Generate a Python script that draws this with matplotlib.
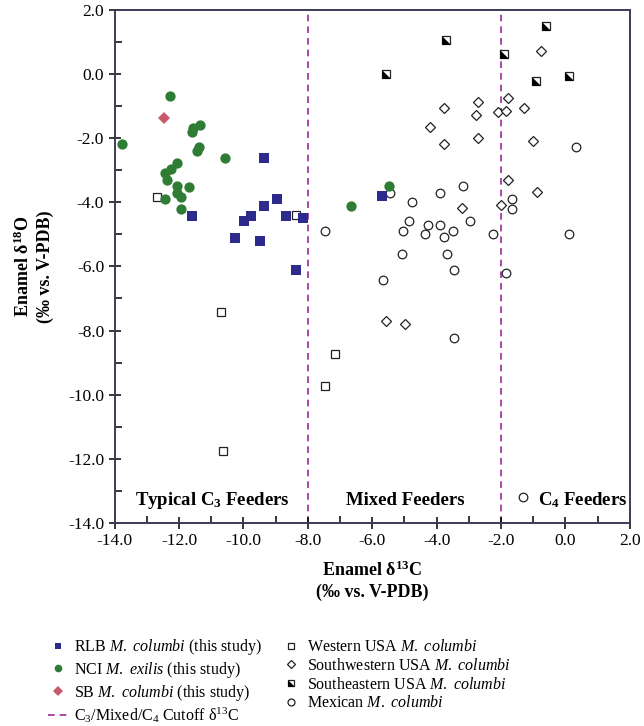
import numpy as np
import matplotlib
matplotlib.use("Agg")
import matplotlib.pyplot as plt
from matplotlib.lines import Line2D

plt.rcParams['font.family'] = ['Liberation Serif', 'DejaVu Serif']
plt.rcParams['mathtext.fontset'] = 'custom'
plt.rcParams['mathtext.rm'] = 'Liberation Serif'
plt.rcParams['mathtext.it'] = 'Liberation Serif:italic'
plt.rcParams['mathtext.bf'] = 'Liberation Serif:bold'
plt.rcParams['axes.unicode_minus'] = False

# this study
rlb_x = [-9.37, -11.59, -8.97, -9.37, -8.68, -9.75, -9.98, -10.26, -9.49, -8.37, -8.14, -5.70]
rlb_y = [-2.61, -4.42, -3.91, -4.10, -4.42, -4.42, -4.58, -5.10, -5.20, -6.11, -4.50, -3.80]

nci_x = [-12.28, -11.35, -11.57, -11.59, -13.78, -11.37, -11.45, -10.57, -12.07, -12.26,
         -12.44, -12.36, -12.07, -11.68, -12.07, -11.95, -12.44, -11.95, -5.48, -6.67]
nci_y = [-0.68, -1.59, -1.69, -1.79, -2.19, -2.28, -2.39, -2.60, -2.78, -2.97,
         -3.09, -3.30, -3.49, -3.51, -3.70, -3.82, -3.90, -4.20, -3.50, -4.10]

sb_x = [-12.46]
sb_y = [-1.37]

# comparison data
west_x = [-12.67, -8.37, -10.69, -7.15, -7.46, -10.65]
west_y = [-3.82, -4.39, -7.43, -8.72, -9.73, -11.75]

sw_x = [-0.77, -1.78, -2.70, -3.78, -1.29, -2.79, -2.10, -1.86, -4.20, -2.70,
        -3.78, -1.00, -1.79, -0.89, -3.21, -2.00, -5.57, -4.98]
sw_y = [0.72, -0.75, -0.86, -1.04, -1.05, -1.27, -1.17, -1.15, -1.66, -1.98,
        -2.18, -2.09, -3.29, -3.67, -4.19, -4.08, -7.69, -7.80]

se_x = [-3.70, -0.61, -1.91, -5.57, -0.90, 0.10]
se_y = [1.08, 1.50, 0.62, 0.00, -0.20, -0.04]

mex_x = [0.32, -3.17, -3.88, -5.46, -4.78, -1.67, -1.67, -4.87, -2.97, -7.48,
         -5.06, -4.28, -3.89, -4.36, -3.48, -3.78, -2.26, 0.12, -5.07, -3.67,
         -3.47, -1.85, -5.68, -3.47, -1.33]
mex_y = [-2.28, -3.49, -3.72, -3.71, -4.00, -3.90, -4.20, -4.59, -4.59, -4.89,
         -4.89, -4.71, -4.71, -4.99, -4.89, -5.09, -4.99, -5.00, -5.60, -5.60,
         -6.11, -6.19, -6.42, -8.22, -13.2]

cutoffs = [-8.0, -2.0]

blue = '#2c2a8c'
green = '#2f7d35'
pink = '#c8586c'
purple = '#9c2a98'
spine_c = '#3b3b58'

fig = plt.figure(figsize=(6.44, 7.26), dpi=100)
ax = fig.add_axes([0.178, 0.280, 0.800, 0.706])

ms = 6.2
open_kw = dict(linestyle='none', markerfacecolor='white', markeredgecolor='#222222',
               markeredgewidth=0.9)

for xc in cutoffs:
    ax.axvline(xc, color=purple, linestyle=(0, (4, 3)), linewidth=1.2, zorder=1)

ax.plot(west_x, west_y, marker='s', markersize=ms, **open_kw, zorder=3)
ax.plot(sw_x, sw_y, marker='D', markersize=ms - 0.6, **open_kw, zorder=3)
ax.plot(mex_x, mex_y, marker='o', markersize=ms, **open_kw, zorder=3)
# half-filled squares
tri = [(-1, 1), (-1, -1), (1, -1), (-1, 1)]
ax.plot(se_x, se_y, marker='s', markersize=ms, **open_kw, zorder=3)
ax.plot(se_x, se_y, marker=tri, markersize=ms, linestyle='none',
        color='black', markeredgewidth=0, zorder=4)

ax.plot(rlb_x, rlb_y, marker='s', markersize=ms + 0.6, linestyle='none',
        color=blue, markeredgewidth=0, zorder=5)
ax.plot(nci_x, nci_y, marker='o', markersize=ms + 1.2, linestyle='none',
        color=green, markeredgewidth=0, zorder=6)
ax.plot(sb_x, sb_y, marker='D', markersize=ms, linestyle='none',
        color=pink, markeredgewidth=0, zorder=6)

ax.set_xlim(-14, 2)
ax.set_ylim(-14, 2)
ax.set_xticks(np.arange(-14, 2.1, 2))
ax.set_yticks(np.arange(-14, 2.1, 2))
ax.set_xticks(np.arange(-13, 2, 2), minor=True)
ax.set_yticks(np.arange(-13, 2, 2), minor=True)
ax.xaxis.set_major_formatter(matplotlib.ticker.FormatStrFormatter('%.1f'))
ax.yaxis.set_major_formatter(matplotlib.ticker.FormatStrFormatter('%.1f'))
ax.tick_params(which='major', direction='inout', length=9, width=1.1,
               labelsize=12.5, color='black', pad=3)
ax.tick_params(which='minor', direction='in', length=5, width=1.1, color='black')
for s in ax.spines.values():
    s.set_color(spine_c)
    s.set_linewidth(1.4)

ax.set_xlabel('Enamel δ$^{\\bf 13}$C\n(‰ vs. V-PDB)', fontsize=13,
              fontweight='bold', labelpad=8, linespacing=1.3)
ax.set_ylabel('Enamel δ$^{\\bf 18}$O\n(‰ vs. V-PDB)', fontsize=13,
              fontweight='bold', labelpad=10, linespacing=1.3)

ax.text(-10.97, -13.3, 'Typical C$_{\\bf 3}$ Feeders', ha='center', va='center',
        fontsize=13.5, fontweight='bold')
ax.text(-4.98, -13.3, 'Mixed Feeders', ha='center', va='center',
        fontsize=13.5, fontweight='bold')
ax.text(0.54, -13.3, 'C$_{\\bf 4}$ Feeders', ha='center', va='center',
        fontsize=13.5, fontweight='bold')

lms = 5
h_rlb = Line2D([], [], marker='s', linestyle='none', color=blue, markersize=lms, markeredgewidth=0)
h_nci = Line2D([], [], marker='o', linestyle='none', color=green, markersize=lms + 0.5, markeredgewidth=0)
h_sb = Line2D([], [], marker='D', linestyle='none', color=pink, markersize=lms, markeredgewidth=0)
h_cut = Line2D([], [], color=purple, linestyle=(0, (4, 3)), linewidth=1.2)
h_west = Line2D([], [], marker='s', markersize=lms, **open_kw)
h_sw = Line2D([], [], marker='D', markersize=lms - 0.5, **open_kw)
h_se_a = Line2D([], [], marker='s', markersize=lms, **open_kw)
h_se_b = Line2D([], [], marker=tri, markersize=lms, linestyle='none', color='black', markeredgewidth=0)
h_mex = Line2D([], [], marker='o', markersize=lms, **open_kw)

handles = [h_rlb, h_nci, h_sb, h_cut, h_west, h_sw, (h_se_a, h_se_b), h_mex]
labels = ['RLB $\\it{M.}$ $\\it{columbi}$ (this study)',
          'NCI $\\it{M.}$ $\\it{exilis}$ (this study)',
          'SB $\\it{M.}$ $\\it{columbi}$ (this study)',
          'C$_3$/Mixed/C$_4$ Cutoff δ$^{13}$C',
          'Western USA $\\it{M.}$ $\\it{columbi}$',
          'Southwestern USA $\\it{M.}$ $\\it{columbi}$',
          'Southeastern USA $\\it{M.}$ $\\it{columbi}$',
          'Mexican $\\it{M.}$ $\\it{columbi}$']
fig.legend(handles, labels, ncol=2, loc='upper left', bbox_to_anchor=(0.065, 0.131),
           frameon=False, fontsize=11.5, handlelength=1.2, handletextpad=0.4,
           columnspacing=1.2, labelspacing=0.17, borderaxespad=0)

fig.savefig('out.png', dpi=100)
